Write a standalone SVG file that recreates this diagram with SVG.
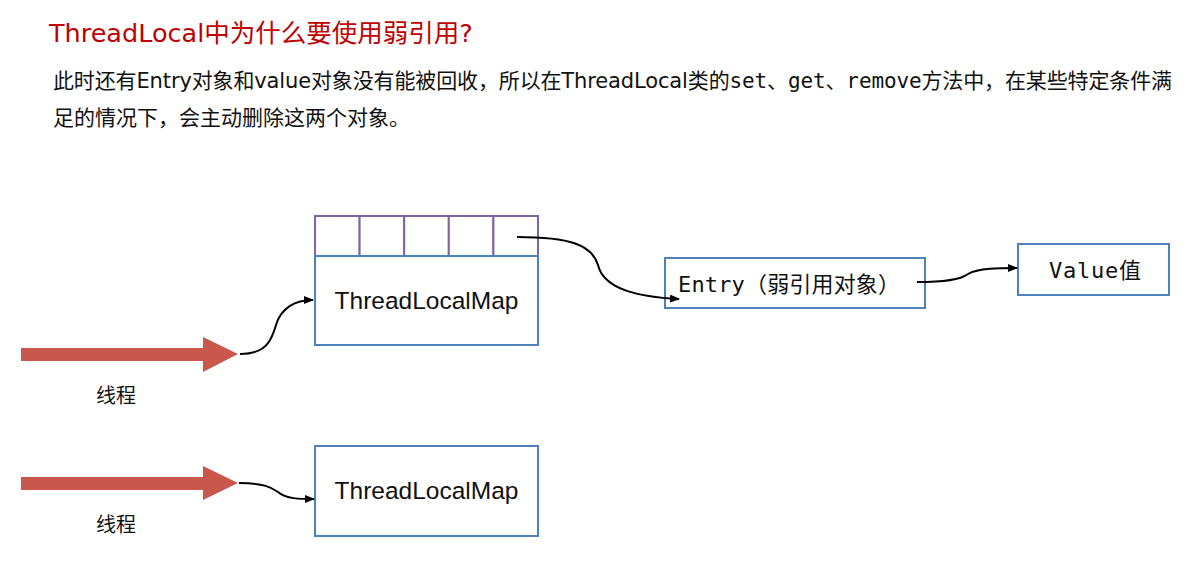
<svg xmlns="http://www.w3.org/2000/svg" width="1204" height="572" viewBox="0 0 1204 572">
  <style>
    .title { font-family: "DejaVu Sans", "Noto Sans CJK SC", sans-serif; font-size: 25.5px; fill: #C00000; }
    .body { font-family: "DejaVu Sans", "Noto Sans CJK SC", sans-serif; font-size: 21px; fill: #111; }
    .mono { font-family: "DejaVu Sans Mono", "Noto Sans CJK SC", monospace; }
    .box { fill: #fff; stroke: #4F81BD; stroke-width: 2; }
    .cell { fill: #fff; stroke: #8064A2; stroke-width: 2; }
    .map { font-family: "Liberation Sans", "Noto Sans CJK SC", sans-serif; font-size: 24.5px; fill: #111; }
    .node { font-family: "DejaVu Sans Mono", "Noto Sans CJK SC", monospace; font-size: 22px; fill: #111; }
    .cjk { font-family: "Noto Sans CJK SC", sans-serif; font-size: 20px; fill: #111; }
    .thread { fill: #C9574B; }
    .conn { fill: none; stroke: #000; stroke-width: 2; }
  </style>
  <defs>
    <marker id="arr" markerWidth="10" markerHeight="8" refX="9" refY="4" orient="auto" markerUnits="userSpaceOnUse">
      <path d="M0,0 L10,4 L0,8 Z" fill="#000"/>
    </marker>
  </defs>
  <rect width="1204" height="572" fill="#fff"/>

  <text class="title" x="49" y="42">ThreadLocal中为什么要使用弱引用?</text>
  <text class="body" x="53" y="88" textLength="1119" lengthAdjust="spacing">此时还有Entry对象和value对象没有能被回收，所以在ThreadLocal类的<tspan class="mono">set</tspan>、<tspan class="mono">get</tspan>、<tspan class="mono">remove</tspan>方法中，在某些特定条件满</text>
  <text class="body" x="53" y="125">足的情况下，会主动删除这两个对象。</text>

  <g id="thread1">
    <polygon class="thread" points="21,348 203,348 203,337 238,354 203,372 203,361 21,361"/>
    <text class="cjk" x="96" y="403">线程</text>
  </g>
  <g id="thread2">
    <polygon class="thread" points="21,477 203,477 203,466 238,483 203,500 203,490 21,490"/>
    <text class="cjk" x="96" y="532">线程</text>
  </g>

  <g id="map1">
    <rect class="cell" x="315" y="216" width="44.6" height="40"/>
    <rect class="cell" x="359.6" y="216" width="44.6" height="40"/>
    <rect class="cell" x="404.2" y="216" width="44.6" height="40"/>
    <rect class="cell" x="448.8" y="216" width="44.6" height="40"/>
    <rect class="cell" x="493.4" y="216" width="44.6" height="40"/>
    <rect class="box" x="315" y="256" width="223" height="89"/>
    <text class="map" x="426.5" y="309" text-anchor="middle">ThreadLocalMap</text>
  </g>

  <g id="map2">
    <rect class="box" x="315" y="446" width="223" height="90"/>
    <text class="map" x="426.5" y="499" text-anchor="middle">ThreadLocalMap</text>
  </g>

  <g id="entry">
    <rect class="box" x="665" y="258" width="260" height="50"/>
    <text class="node" x="678" y="292" textLength="222" lengthAdjust="spacing">Entry（弱引用对象）</text>
  </g>

  <g id="value">
    <rect class="box" x="1018" y="244" width="151" height="51"/>
    <text class="node" x="1049" y="278" textLength="92" lengthAdjust="spacing">Value值</text>
  </g>

  <g id="connectors">
    <path class="conn" d="M 240 354 C 268 354, 272 338, 276 325 C 281 308, 295 300, 313 300" marker-end="url(#arr)"/>
    <path class="conn" d="M 517 237 C 570 237, 592 245, 598 265 C 604 290, 640 297, 679 299" marker-end="url(#arr)"/>
    <path class="conn" d="M 917 282 C 945 282, 960 280, 968 274 C 978 268, 1000 268, 1017 268" marker-end="url(#arr)"/>
    <path class="conn" d="M 239 483 C 265 483, 272 488, 278 492 C 286 499, 300 499, 314 499" marker-end="url(#arr)"/>
  </g>
</svg>
